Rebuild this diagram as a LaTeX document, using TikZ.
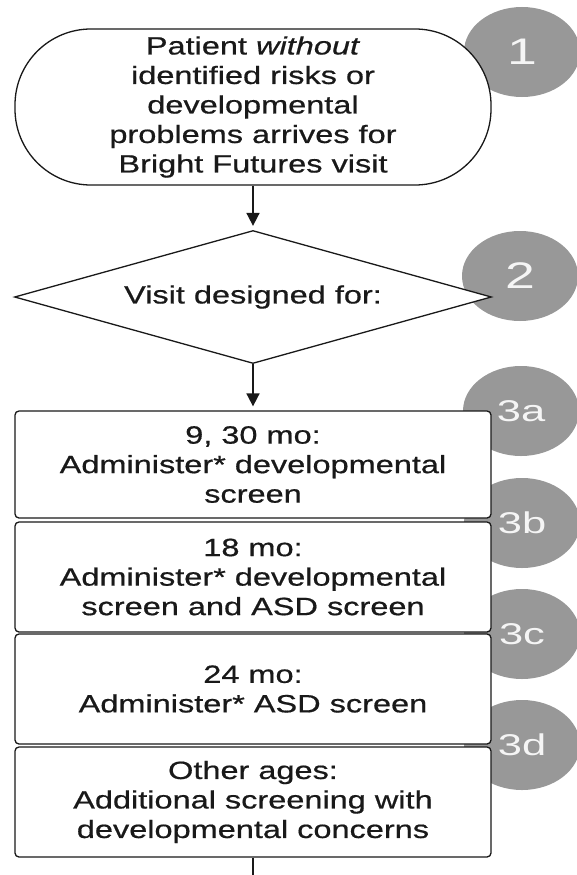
\documentclass[tikz,border=0pt]{standalone}
\usepackage{fontspec}
\setmainfont{Liberation Sans}[FakeStretch=1.3,FakeBold=0.6]
\newfontfamily\badgefont{Liberation Sans}[FakeStretch=1.45]
\usetikzlibrary{shapes.geometric,arrows.meta}
\definecolor{badgegray}{RGB}{152,152,152}
\definecolor{ink}{RGB}{25,25,25}

\begin{document}
\begin{tikzpicture}[x=1pt,y=-1pt,
  every node/.style={font=\fontsize{25}{29.5}\selectfont, text=ink, align=center, inner sep=0pt},
  outline/.style={draw=ink, line width=1.3pt, fill=white},
  terminal/.style={outline, rectangle, rounded corners=76pt, minimum width=476pt, minimum height=156pt},
  decision/.style={outline, diamond, shape aspect=3.6, minimum width=477pt, minimum height=133pt},
  stepbox/.style={outline, rectangle, rounded corners=4pt, minimum width=476pt},
  badge/.style={ellipse, fill=badgegray, minimum width=116pt, minimum height=90pt, text=white!96!black},
  bigbadge/.style={badge, font=\badgefont\fontsize{37}{37}\selectfont},
  smallbadge/.style={badge, font=\badgefont\fontsize{30}{30}\selectfont},
  flow/.style={draw=ink, line width=1.8pt, -{Triangle[width=13pt,length=13pt]}, shorten >=4pt},
  tail/.style={draw=ink, line width=1.8pt}
]
% page
\fill[white] (0,0) rectangle (577,875);
\useasboundingbox (0,0) rectangle (577,875);

% numbered badges, behind the boxes
\node[bigbadge]   (b1)  at (522,52)  {1};
\node[bigbadge]   (b2)  at (520,276) {2};
\node[smallbadge] (b3a) at (521,411) {3a};
\node[smallbadge] (b3b) at (522,523) {3b};
\node[smallbadge] (b3c) at (522,634) {3c};
\node[smallbadge] (b3d) at (522,745) {3d};

% flow shapes
\node[terminal] (t) at (253,107)
  {Patient \textit{without}\\identified risks or\\developmental\\problems arrives for\\Bright Futures visit};
\node[decision] (d) at (253,297) {Visit designed for:};
\node[stepbox, minimum height=107pt] (s3a) at (253,464.5)
  {9, 30 mo:\\Administer* developmental\\screen};
\node[stepbox, minimum height=110pt] (s3b) at (253,577)
  {18 mo:\\Administer* developmental\\screen and ASD screen};
\node[stepbox, minimum height=110pt] (s3c) at (253,689)
  {24 mo:\\Administer* ASD screen};
\node[stepbox, minimum height=110pt] (s3d) at (253,802)
  {Other ages:\\Additional screening with\\developmental concerns};
\coordinate (exit) at (253,880);

% connectors
\draw[flow] (t) -- (d);
\draw[flow] (d) -- (s3a);
\draw[tail] (s3d) -- (exit);
\end{tikzpicture}
\end{document}
